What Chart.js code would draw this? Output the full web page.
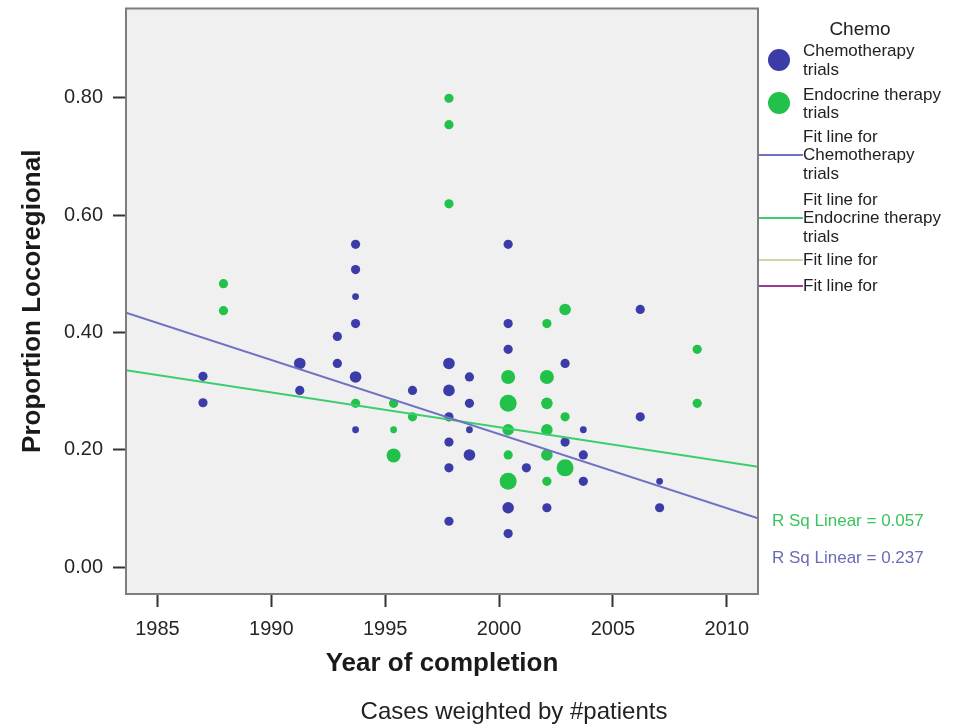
<!DOCTYPE html>
<html>
<head>
<meta charset="utf-8">
<title>Proportion Locoregional by year of completion</title>
<script src="https://cdn.jsdelivr.net/npm/chart.js@4.4.1/dist/chart.umd.min.js"></script>
<style>
  html, body { margin: 0; padding: 0; background: #fff; }
  #wrap { width: 964px; height: 726px; }
</style>
</head>
<body>
<div id="wrap"><canvas id="chart" width="964" height="726"></canvas></div>
<script>
// chemotherapy trials (blue)
const chemoYears = [1987.0, 1987.0, 1991.25, 1991.25, 1992.9, 1992.9,
  1993.7, 1993.7, 1993.7, 1993.7, 1993.7, 1993.7, 1996.2,
  1997.8, 1997.8, 1997.8, 1997.8, 1997.8, 1997.8,
  1998.7, 1998.7, 1998.7, 1998.7,
  2000.4, 2000.4, 2000.4, 2000.4, 2000.4,
  2001.2, 2002.1, 2002.9, 2002.9,
  2003.7, 2003.7, 2003.7, 2006.2, 2006.2, 2007.05, 2007.05];
const chemoValues = [0.325, 0.280, 0.347, 0.301, 0.393, 0.347,
  0.550, 0.507, 0.461, 0.415, 0.324, 0.234, 0.301,
  0.347, 0.301, 0.256, 0.213, 0.169, 0.078,
  0.324, 0.279, 0.234, 0.191,
  0.550, 0.415, 0.371, 0.101, 0.057,
  0.169, 0.101, 0.347, 0.213,
  0.234, 0.191, 0.146, 0.439, 0.256, 0.146, 0.101];
// relative weight (#patients class, 1 = fewest)
const chemoWeights = [2, 2, 3, 2, 2, 2,
  2, 2, 1, 2, 3, 1, 2,
  3, 3, 2, 2, 2, 2,
  2, 2, 1, 3,
  2, 2, 2, 3, 2,
  2, 2, 2, 2,
  1, 2, 2, 2, 2, 1, 2];

// endocrine therapy trials (green)
const endoYears = [1987.9, 1987.9, 1993.7, 1995.37, 1995.37, 1995.37, 1996.2,
  1997.8, 1997.8, 1997.8,
  2000.4, 2000.4, 2000.4, 2000.4, 2000.4,
  2002.1, 2002.1, 2002.1, 2002.1, 2002.1, 2002.1,
  2002.9, 2002.9, 2002.9, 2008.7, 2008.7];
const endoValues = [0.483, 0.437, 0.279, 0.279, 0.234, 0.190, 0.256,
  0.799, 0.754, 0.619,
  0.324, 0.279, 0.234, 0.191, 0.146,
  0.415, 0.324, 0.279, 0.234, 0.191, 0.146,
  0.439, 0.256, 0.169, 0.371, 0.279];
const endoWeights = [2, 2, 2, 2, 1, 4, 2,
  2, 2, 2,
  4, 5, 3, 2, 5,
  2, 4, 3, 3, 3, 2,
  3, 2, 5, 2, 2];

// linear fit lines, evaluated at the axis ends
const fitYears = [1983.62, 2011.37];
const fitChemo = [0.4335, 0.0829];
const fitEndo = [0.3353, 0.1707];

const xTicks = [1985, 1990, 1995, 2000, 2005, 2010];
const yTicks = [0.0, 0.2, 0.4, 0.6, 0.8];

const BLUE = '#3c3ca8';
const GREEN = '#22c24a';
const BLUE_FIT = '#6f71c2';
const GREEN_FIT = '#3ccd6e';

const radiusFor = w => [0, 3.4, 4.6, 5.8, 7, 8.5][w];
const toPoints = (xs, ys) => xs.map((x, i) => ({ x: x, y: ys[i] }));

Chart.defaults.font.family = '"Liberation Sans", Arial, sans-serif';
Chart.defaults.color = '#262626';

// grey plot background and frame
const plotFrame = {
  id: 'plotFrame',
  beforeDraw(chart) {
    const { ctx, chartArea: a } = chart;
    ctx.save();
    ctx.fillStyle = '#ffffff';
    ctx.fillRect(0, 0, chart.width, chart.height);
    ctx.fillStyle = '#f0f0f0';
    ctx.fillRect(a.left, a.top, a.right - a.left, a.bottom - a.top);
    ctx.restore();
  },
  afterDatasetsDraw(chart) {
    const { ctx, chartArea: a } = chart;
    ctx.save();
    ctx.strokeStyle = '#7d7d7d';
    ctx.lineWidth = 2;
    ctx.strokeRect(a.left, a.top, a.right - a.left, a.bottom - a.top);
    ctx.restore();
  }
};

// SPSS style legend, R squared notes and weighting note
const sideNotes = {
  id: 'sideNotes',
  afterDraw(chart) {
    const { ctx, chartArea: a } = chart;
    const tx = a.right + 45;
    ctx.save();
    ctx.textBaseline = 'middle';
    ctx.fillStyle = '#222';

    ctx.font = '19px "Liberation Sans", Arial, sans-serif';
    ctx.textAlign = 'center';
    ctx.fillText('Chemo', a.right + 102, 30);

    ctx.textAlign = 'left';
    ctx.font = '17px "Liberation Sans", Arial, sans-serif';

    const dot = (y, color) => {
      ctx.beginPath();
      ctx.arc(a.right + 21, y, 11, 0, Math.PI * 2);
      ctx.fillStyle = color;
      ctx.fill();
      ctx.fillStyle = '#222';
    };
    const seg = (y, color) => {
      ctx.beginPath();
      ctx.moveTo(a.right + 1, y);
      ctx.lineTo(tx, y);
      ctx.strokeStyle = color;
      ctx.lineWidth = 2;
      ctx.stroke();
    };

    dot(60, BLUE);
    ctx.fillText('Chemotherapy', tx, 51);
    ctx.fillText('trials', tx, 70);
    dot(103, GREEN);
    ctx.fillText('Endocrine therapy', tx, 95);
    ctx.fillText('trials', tx, 113);

    ctx.fillText('Fit line for', tx, 137);
    seg(155, BLUE_FIT);
    ctx.fillText('Chemotherapy', tx, 155);
    ctx.fillText('trials', tx, 174);

    ctx.fillText('Fit line for', tx, 200);
    seg(218, GREEN_FIT);
    ctx.fillText('Endocrine therapy', tx, 218);
    ctx.fillText('trials', tx, 237);

    seg(260, '#d6d6a4');
    ctx.fillText('Fit line for', tx, 260);
    seg(286, '#9b3b97');
    ctx.fillText('Fit line for', tx, 286);

    ctx.fillStyle = '#39c45c';
    ctx.fillText('R Sq Linear = 0.057', a.right + 14, 521);
    ctx.fillStyle = '#6b6cb6';
    ctx.fillText('R Sq Linear = 0.237', a.right + 14, 558);

    ctx.fillStyle = '#222';
    ctx.textAlign = 'center';
    ctx.font = '24px "Liberation Sans", Arial, sans-serif';
    ctx.fillText('Cases weighted by #patients', 514, 712);
    ctx.restore();
  }
};

const ctx = document.getElementById('chart').getContext('2d');
new Chart(ctx, {
  type: 'scatter',
  data: {
    datasets: [
      {
        type: 'line',
        label: 'Fit line for Chemotherapy trials',
        data: toPoints(fitYears, fitChemo),
        borderColor: BLUE_FIT,
        borderWidth: 2,
        pointRadius: 0,
        fill: false,
        order: 0
      },
      {
        type: 'line',
        label: 'Fit line for Endocrine therapy trials',
        data: toPoints(fitYears, fitEndo),
        borderColor: GREEN_FIT,
        borderWidth: 2,
        pointRadius: 0,
        fill: false,
        order: 0
      },
      {
        label: 'Chemotherapy trials',
        data: toPoints(chemoYears, chemoValues),
        backgroundColor: BLUE,
        borderWidth: 0,
        pointRadius: chemoWeights.map(radiusFor),
        order: 1
      },
      {
        label: 'Endocrine therapy trials',
        data: toPoints(endoYears, endoValues),
        backgroundColor: GREEN,
        borderWidth: 0,
        pointRadius: endoWeights.map(radiusFor),
        order: 1
      }
    ]
  },
  options: {
    responsive: false,
    animation: false,
    devicePixelRatio: 1,
    layout: { padding: { top: 8, right: 206, bottom: 0, left: 0 } },
    plugins: {
      legend: { display: false },
      tooltip: { enabled: false }
    },
    scales: {
      x: {
        type: 'linear',
        min: 1983.62,
        max: 2011.37,
        afterFit: scale => {
          scale.height = 132;
          scale.paddingLeft = 0;
          scale.paddingRight = 0;
        },
        afterBuildTicks: scale => { scale.ticks = xTicks.map(v => ({ value: v })); },
        border: { display: false },
        grid: { drawOnChartArea: false, tickLength: 13, tickColor: '#333', tickWidth: 2 },
        ticks: {
          font: { size: 20 },
          padding: 10,
          maxRotation: 0,
          callback: v => String(v)
        },
        title: {
          display: true,
          text: 'Year of completion',
          font: { size: 26, weight: 'bold' },
          color: '#1a1a1a',
          padding: { top: 0, bottom: 47 }
        }
      },
      y: {
        min: -0.046,
        max: 0.952,
        afterFit: scale => {
          scale.width = 126;
          scale.paddingTop = 0;
          scale.paddingBottom = 0;
        },
        afterBuildTicks: scale => { scale.ticks = yTicks.map(v => ({ value: v })); },
        border: { display: false },
        grid: { drawOnChartArea: false, tickLength: 13, tickColor: '#333', tickWidth: 2 },
        ticks: {
          font: { size: 20 },
          padding: 10,
          callback: v => v.toFixed(2)
        },
        title: {
          display: true,
          text: 'Proportion Locoregional',
          font: { size: 26, weight: 'bold' },
          color: '#1a1a1a',
          padding: { top: 17, bottom: 0 }
        }
      }
    }
  },
  plugins: [plotFrame, sideNotes]
});
</script>
</body>
</html>
